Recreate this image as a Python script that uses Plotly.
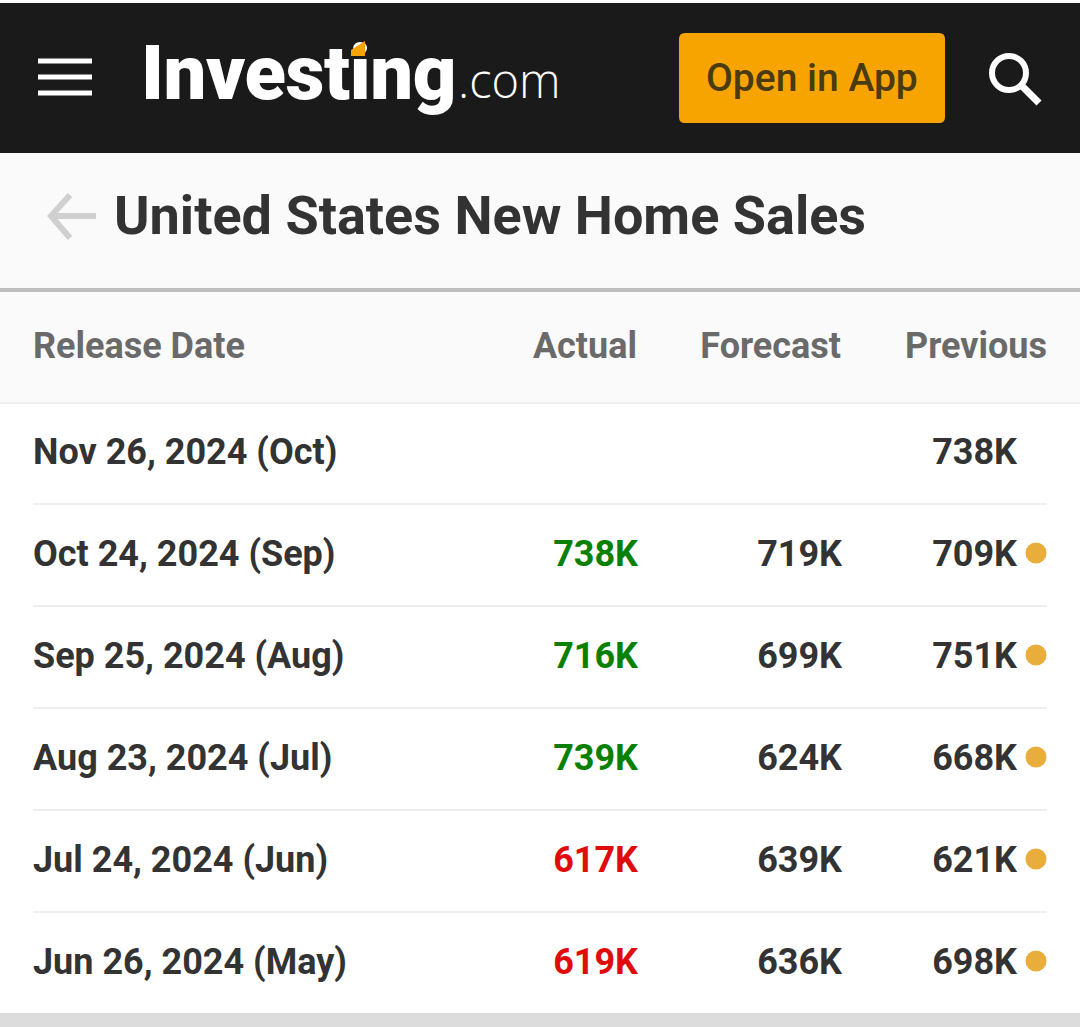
import plotly.graph_objects as go

# table values
release_dates = ["Nov 26, 2024 (Oct)", "Oct 24, 2024 (Sep)", "Sep 25, 2024 (Aug)",
                 "Aug 23, 2024 (Jul)", "Jul 24, 2024 (Jun)", "Jun 26, 2024 (May)"]
actual = ["", "738K", "716K", "739K", "617K", "619K"]
forecast = ["", "719K", "699K", "624K", "639K", "636K"]
previous = ["738K", "709K", "751K", "668K", "621K", "698K"]
revised = [False, True, True, True, True, True]
headers = ["Release Date", "Actual", "Forecast", "Previous"]

W, H = 1080, 1027
FONT = "Roboto"
DARK = "#333333"
GREY = "#6a6a6a"
GREEN = "#0a8000"
RED = "#e00b0b"
row_y = [452 + 102 * i for i in range(len(release_dates))]
text_y = [y + 3 for y in row_y]


def actual_color(a, f):
    if not a:
        return DARK
    return GREEN if int(a[:-1]) > int(f[:-1]) else RED


def text_col(x, y, text, pos, color=DARK, size=36, weight=700):
    return go.Scatter(x=[x] * len(y), y=y, text=text, mode="text", textposition=pos,
                      textfont=dict(family=FONT, size=size, color=color, weight=weight),
                      hoverinfo="skip", showlegend=False, cliponaxis=False)


fig = go.Figure()

# logo goes first so the script at the bottom can find it, as a trace it stays under the orange tick
fig.add_trace(text_col(141, [80], ["Investing"], "middle right", color="white", size=76, weight=900))

# rows
fig.add_trace(text_col(33, text_y, release_dates, "middle right"))
fig.add_trace(text_col(638, text_y, actual, "middle left",
                       color=[actual_color(a, f) for a, f in zip(actual, forecast)]))
fig.add_trace(text_col(842, text_y, forecast, "middle left"))
fig.add_trace(text_col(1017, text_y, previous, "middle left"))

# revised dots
dot_y = [y - 1 for y, r in zip(row_y, revised) if r]
fig.add_trace(go.Scatter(x=[1036] * len(dot_y), y=dot_y, mode="markers",
                         marker=dict(size=21, color="#e8ad3a", line_width=0),
                         hoverinfo="skip", showlegend=False))

# header row
fig.add_trace(text_col(33, [349], [headers[0]], "middle right", color=GREY))
fig.add_trace(text_col(637, [349], [headers[1]], "middle left", color=GREY))
fig.add_trace(text_col(841, [349], [headers[2]], "middle left", color=GREY))
fig.add_trace(text_col(1047, [349], [headers[3]], "middle left", color=GREY))

# page title
fig.add_trace(text_col(114, [220], ["United States New Home Sales"], "middle right", size=54))

shapes = [
    dict(type="rect", x0=0, x1=W, y0=3, y1=153, fillcolor="#1a1a1a", line_width=0),
    dict(type="rect", x0=0, x1=W, y0=153, y1=288, fillcolor="#fafafa", line_width=0),
    dict(type="rect", x0=0, x1=W, y0=288, y1=292, fillcolor="#bdbdbd", line_width=0),
    dict(type="rect", x0=0, x1=W, y0=292, y1=402, fillcolor="#fafafa", line_width=0),
    dict(type="rect", x0=0, x1=W, y0=402, y1=404, fillcolor="#eeeeee", line_width=0),
    dict(type="rect", x0=0, x1=W, y0=1013, y1=H, fillcolor="#dcdcdc", line_width=0),
    # app button
    dict(type="path", path="M 685 33 H 939 Q 945 33 945 39 V 117 Q 945 123 939 123 H 685 "
                           "Q 679 123 679 117 V 39 Q 679 33 685 33 Z",
         fillcolor="#f7a400", line_width=0),
    # search icon
    dict(type="circle", x0=992, x1=1026, y0=56, y1=90, line=dict(color="white", width=6)),
    dict(type="line", x0=1021, x1=1039, y0=85, y1=103, line=dict(color="white", width=7)),
    # back arrow
    dict(type="path", path="M 70 195 L 51 216 L 70 238 M 51 216 H 96",
         line=dict(color="#d0d0d0", width=6)),
]
for y in (61, 77, 93):
    shapes.append(dict(type="rect", x0=38, x1=92, y0=y - 2.5, y1=y + 2.5,
                       fillcolor="white", line_width=0))
for y in row_y[:-1]:
    shapes.append(dict(type="line", x0=33, x1=1047, y0=y + 52, y1=y + 52,
                       line=dict(color="#eeeeee", width=2)))
for s in shapes:
    s["layer"] = "below"
# orange tick of the logo
shapes.append(dict(type="path", path="M 351 50 L 365 41 V 56 H 351 Z",
                   fillcolor="#f7a400", line_width=0, layer="above"))

annotations = [
    dict(x=563, y=80, text=".com", xanchor="right", yanchor="middle", showarrow=False,
         font=dict(family="Open Sans", size=47, color="white", weight=300)),
    dict(x=812, y=78, text="Open in App", xanchor="center", yanchor="middle", showarrow=False,
         font=dict(family=FONT, size=39, color="#4a3a10", weight=500)),
]

fig.update_layout(
    width=W, height=H, margin=dict(l=0, r=0, t=0, b=0),
    paper_bgcolor="white", plot_bgcolor="white", showlegend=False,
    xaxis=dict(range=[0, W], visible=False, fixedrange=True),
    yaxis=dict(range=[H, 0], visible=False, fixedrange=True),
    shapes=shapes, annotations=annotations,
)

# tighten the logo letters, plotly has no letter spacing option
fig.write_html("out.html", config={"displayModeBar": False},
               post_script="document.body.style.margin='0';"
                           "document.querySelector('.textpoint text').style.letterSpacing='-0.4px';")
